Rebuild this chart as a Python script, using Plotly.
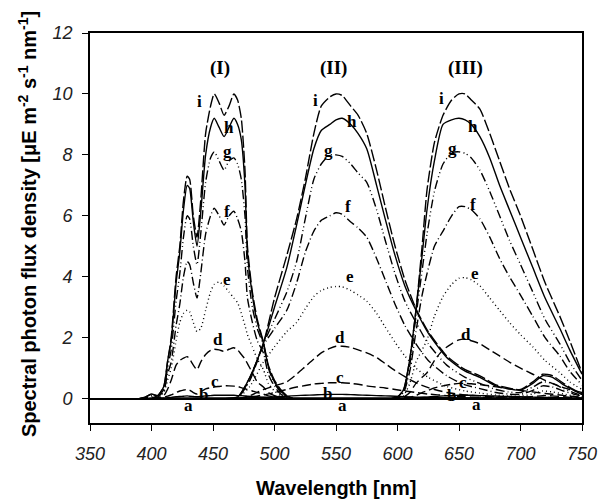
import plotly.graph_objects as go

# ---------------- data ----------------
LETTERS = ["a", "b", "c", "d", "e", "f", "g", "h", "i"]

# Group (I) – blue
WL_I = [390, 395, 400, 405, 410, 413, 416, 420, 423, 426, 429, 431, 434, 437, 440, 444, 448,
        451, 455, 459, 463, 467, 470, 473, 476, 478, 482, 486, 491, 495, 500, 505, 510, 515]
I_a = [0, 0, 0.01, 0.01, 0.01, 0.01, 0.02, 0.02, 0.02, 0.02, 0.02, 0.02, 0.02, 0.02, 0.02, 0.02, 0.02,
       0.02, 0.02, 0.02, 0.02, 0.02, 0.02, 0.02, 0.02, 0.02, 0.02, 0.02, 0.01, 0.01, 0.01, 0, 0, 0]
I_b = [0, 0, 0.01, 0.01, 0.02, 0.03, 0.04, 0.06, 0.07, 0.08, 0.09, 0.08, 0.07, 0.06, 0.07, 0.09, 0.1,
       0.11, 0.11, 0.11, 0.11, 0.11, 0.1, 0.1, 0.09, 0.08, 0.07, 0.06, 0.05, 0.03, 0.02, 0.01, 0, 0]
I_c = [0, 0, 0.02, 0.02, 0.04, 0.08, 0.12, 0.2, 0.25, 0.28, 0.3, 0.28, 0.2, 0.15, 0.22, 0.32, 0.36,
       0.38, 0.4, 0.42, 0.42, 0.41, 0.4, 0.36, 0.32, 0.3, 0.25, 0.2, 0.15, 0.09, 0.05, 0.02, 0.01, 0]
I_d = [0, 0.01, 0.05, 0.03, 0.1, 0.3, 0.6, 1.1, 1.25, 1.33, 1.38, 1.3, 1.1, 0.95, 1.2, 1.45, 1.58,
       1.62, 1.6, 1.55, 1.62, 1.67, 1.6, 1.45, 1.3, 1.15, 0.85, 0.55, 0.38, 0.2, 0.1, 0.04, 0.01, 0]
I_e = [0, 0.02, 0.08, 0.05, 0.2, 0.6, 1.0, 1.9, 2.5, 2.8, 2.9, 2.85, 2.5, 2.2, 2.3, 2.9, 3.5,
       3.75, 3.83, 3.7, 3.5, 3.3, 3.15, 2.8, 2.4, 2.1, 1.7, 1.3, 0.95, 0.5, 0.25, 0.1, 0.03, 0]
I_f = [0, 0.02, 0.1, 0.06, 0.25, 0.8, 1.2, 2.4, 3.1, 4.0, 4.5, 4.4, 3.8, 3.3, 4.1, 5.4, 6.0,
       6.25, 6.0, 5.7, 6.0, 6.15, 5.9, 5.5, 4.5, 3.3, 2.5, 1.9, 1.5, 0.8, 0.4, 0.15, 0.05, 0]
I_g = [0, 0.03, 0.12, 0.08, 0.3, 1.0, 1.6, 3.2, 4.1, 5.3, 6.0, 5.9, 5.0, 4.4, 5.4, 7.1, 7.9,
       8.1, 7.8, 7.5, 7.8, 7.9, 7.7, 7.2, 6.0, 4.3, 3.0, 2.3, 1.75, 1.0, 0.5, 0.22, 0.07, 0]
I_h = [0, 0.05, 0.15, 0.1, 0.4, 1.2, 1.9, 3.8, 4.8, 6.2, 7.0, 6.9, 5.8, 5.0, 6.1, 8.0, 8.9,
       9.2, 8.9, 8.6, 8.9, 9.2, 9.0, 8.5, 7.0, 4.8, 3.4, 2.5, 1.82, 1.05, 0.55, 0.25, 0.08, 0]
I_i = [0, 0.05, 0.15, 0.1, 0.4, 1.2, 2.0, 4.0, 5.0, 6.5, 7.3, 7.2, 6.0, 5.3, 6.5, 8.7, 9.6,
       10.0, 9.7, 9.3, 9.6, 10.0, 9.8, 9.2, 7.5, 5.0, 3.5, 2.6, 1.85, 1.1, 0.6, 0.3, 0.1, 0]

# Group (II) – green
WL_II = [460, 470, 480, 491, 500, 510, 518, 525, 532, 538, 545, 550, 555, 562, 568, 575, 583,
         590, 598, 606, 615, 625, 640, 655, 667, 680, 690, 700, 710, 718, 726, 735, 743, 750]
II_a = [0, 0, 0.01, 0.01, 0.02, 0.02, 0.02, 0.02, 0.02, 0.02, 0.02, 0.02, 0.02, 0.02, 0.02, 0.02, 0.02,
        0.02, 0.02, 0.02, 0.02, 0.01, 0.01, 0.01, 0.01, 0, 0, 0, 0, 0, 0, 0, 0, 0]
II_b = [0, 0, 0.02, 0.04, 0.06, 0.08, 0.1, 0.11, 0.12, 0.13, 0.14, 0.14, 0.14, 0.13, 0.12, 0.11, 0.1,
        0.09, 0.08, 0.06, 0.05, 0.04, 0.03, 0.02, 0.01, 0.01, 0, 0, 0.01, 0.01, 0.01, 0, 0, 0]
II_c = [0, 0, 0.05, 0.12, 0.2, 0.3, 0.38, 0.43, 0.48, 0.5, 0.52, 0.52, 0.52, 0.5, 0.47, 0.42, 0.38,
        0.35, 0.3, 0.25, 0.2, 0.15, 0.1, 0.06, 0.04, 0.03, 0.02, 0.02, 0.03, 0.04, 0.03, 0.02, 0.01, 0]
II_d = [0, 0.01, 0.1, 0.3, 0.42, 0.55, 0.8, 1.05, 1.3, 1.5, 1.65, 1.72, 1.72, 1.68, 1.6, 1.5, 1.35,
        1.15, 0.92, 0.72, 0.52, 0.36, 0.2, 0.12, 0.09, 0.06, 0.05, 0.04, 0.07, 0.1, 0.09, 0.06, 0.04, 0.02]
II_e = [0, 0.02, 0.4, 1.2, 1.7, 2.2, 2.5, 2.95, 3.35, 3.55, 3.65, 3.68, 3.67, 3.55, 3.4, 3.2, 2.8,
        2.35, 1.85, 1.4, 1.0, 0.7, 0.4, 0.25, 0.18, 0.12, 0.09, 0.08, 0.15, 0.25, 0.22, 0.15, 0.09, 0.05]
II_f = [0, 0.03, 0.6, 1.75, 2.3, 2.9, 3.8, 4.8, 5.5, 5.85, 6.0, 6.1, 6.05, 5.8, 5.6, 5.3, 4.6,
        3.9, 3.1, 2.4, 1.8, 1.25, 0.75, 0.45, 0.33, 0.2, 0.15, 0.14, 0.27, 0.42, 0.38, 0.25, 0.15, 0.08]
II_g = [0, 0.04, 0.65, 1.8, 2.6, 3.5, 4.5, 5.9, 7.2, 7.7, 8.0, 8.0, 7.95, 7.7, 7.4, 7.1, 6.2,
        5.2, 4.1, 3.2, 2.5, 1.8, 1.1, 0.7, 0.5, 0.3, 0.22, 0.2, 0.38, 0.55, 0.5, 0.33, 0.2, 0.1]
II_h = [0, 0.05, 0.7, 1.82, 3.0, 4.3, 5.7, 7.0, 8.2, 8.8, 9.0, 9.15, 9.2, 9.0, 8.7, 8.2, 7.0,
        5.9, 4.7, 3.7, 2.9, 2.15, 1.35, 0.9, 0.7, 0.42, 0.32, 0.28, 0.5, 0.75, 0.7, 0.45, 0.28, 0.13]
II_i = [0, 0.05, 0.7, 1.82, 3.3, 4.7, 5.9, 7.2, 8.7, 9.6, 9.9, 10.0, 9.95, 9.6, 9.3, 8.7, 7.5,
        6.3, 5.0, 3.9, 2.95, 2.2, 1.4, 0.95, 0.75, 0.45, 0.35, 0.3, 0.55, 0.8, 0.75, 0.5, 0.3, 0.15]

# Group (III) – red
WL_III = [595, 600, 605, 610, 615, 620, 624, 630, 637, 644, 650, 655, 660, 667, 675, 683, 691,
          700, 710, 720, 732, 740, 750]
III_a = [0, 0, 0, 0.01, 0.01, 0.02, 0.02, 0.02, 0.02, 0.02, 0.02, 0.02, 0.02, 0.02, 0.02, 0.02, 0.02,
         0.02, 0.01, 0.01, 0.01, 0.01, 0]
III_b = [0, 0, 0, 0.01, 0.02, 0.04, 0.05, 0.07, 0.09, 0.1, 0.11, 0.11, 0.11, 0.1, 0.09, 0.08, 0.07,
         0.06, 0.05, 0.04, 0.03, 0.02, 0.01]
III_c = [0, 0, 0.02, 0.05, 0.1, 0.2, 0.25, 0.35, 0.42, 0.47, 0.5, 0.5, 0.49, 0.46, 0.42, 0.37, 0.32,
         0.27, 0.22, 0.17, 0.12, 0.08, 0.05]
III_d = [0, 0.01, 0.05, 0.2, 0.5, 0.7, 0.85, 1.25, 1.6, 1.8, 1.93, 1.95, 1.9, 1.8, 1.6, 1.4, 1.2,
         1.0, 0.8, 0.6, 0.4, 0.3, 0.2]
III_e = [0, 0.02, 0.1, 0.5, 1.2, 1.6, 1.93, 2.7, 3.35, 3.75, 3.95, 3.97, 3.9, 3.7, 3.3, 2.9, 2.5,
         2.1, 1.7, 1.25, 0.85, 0.55, 0.3]
III_f = [0, 0.03, 0.2, 0.9, 2.2, 3.4, 4.1, 5.0, 5.5, 6.0, 6.3, 6.3, 6.2, 5.9, 5.3, 4.6, 4.0,
         3.4, 2.7, 2.0, 1.4, 0.9, 0.45]
III_g = [0, 0.04, 0.25, 1.1, 2.7, 4.2, 5.4, 6.8, 7.7, 8.06, 8.1, 8.05, 7.9, 7.5, 6.8, 6.0, 5.2,
         4.4, 3.5, 2.6, 1.8, 1.2, 0.6]
III_h = [0, 0.05, 0.3, 1.3, 2.9, 4.7, 6.2, 7.8, 9.0, 9.15, 9.2, 9.15, 9.0, 8.6, 7.9, 7.0, 6.2,
         5.3, 4.3, 3.3, 2.3, 1.6, 0.8]
III_i = [0, 0.05, 0.3, 1.3, 2.9, 5.0, 6.85, 8.4, 9.3, 9.8, 10.0, 10.0, 9.8, 9.5, 8.7, 7.8, 6.9,
         6.0, 4.9, 3.8, 2.7, 1.9, 0.85]

# Label positions (wavelength, value) for the curve letters and group names
LBL_I = {"a": (430, -0.22), "b": (442, 0.12), "c": (452, 0.56), "d": (454, 1.95), "e": (461, 3.9),
         "f": (461, 6.15), "g": (462, 8.1), "h": (463, 8.9), "i": (439, 9.75)}
LBL_II = {"a": (555, -0.22), "b": (543, 0.18), "c": (553, 0.68), "d": (553, 2.0), "e": (561, 4.0),
          "f": (560, 6.3), "g": (544, 8.16), "h": (563, 9.1), "i": (533, 9.8)}
LBL_III = {"a": (664, -0.2), "b": (644, 0.1), "c": (653, 0.52), "d": (656, 2.1), "e": (663, 4.1),
           "f": (661, 6.36), "g": (645, 8.2), "h": (661, 8.93), "i": (636, 9.85)}
GROUP_NAMES = ["(I)", "(II)", "(III)"]
GROUP_POS = [(455.5, 10.85), (548, 10.85), (655, 10.85)]

X_TICKS = [350, 400, 450, 500, 550, 600, 650, 700, 750]
Y_TICKS = [0, 2, 4, 6, 8, 10, 12]

# ---------------- styles ----------------
DASH = {
    "a": "solid",
    "b": "solid",
    "c": "9px,4px",
    "d": "9px,4px",
    "e": "1px,3px",
    "f": "9px,3px,1px,3px",
    "g": "9px,3px,1px,3px,1px,3px",
    "h": "solid",
    "i": "12px,3px",
}

groups = [
    (WL_I, [I_a, I_b, I_c, I_d, I_e, I_f, I_g, I_h, I_i], LBL_I),
    (WL_II, [II_a, II_b, II_c, II_d, II_e, II_f, II_g, II_h, II_i], LBL_II),
    (WL_III, [III_a, III_b, III_c, III_d, III_e, III_f, III_g, III_h, III_i], LBL_III),
]

fig = go.Figure()
annotations = []
serif = "Liberation Serif, Times New Roman, serif"
for gi, (wl, series, lbl) in enumerate(groups):
    for letter, ys in zip(LETTERS, series):
        fig.add_trace(go.Scatter(
            x=wl, y=ys, mode="lines",
            line=dict(color="black", width=1.4, dash=DASH[letter], shape="spline", smoothing=0.6),
            showlegend=False, hoverinfo="skip",
        ))
        lx, ly = lbl[letter]
        annotations.append(dict(x=lx, y=ly, xref="x", yref="y", text=letter, showarrow=False,
                                font=dict(family=serif, size=17, color="black", weight="bold")))
    gx, gy = GROUP_POS[gi]
    annotations.append(dict(x=gx, y=gy, xref="x", yref="y", text=GROUP_NAMES[gi], showarrow=False,
                            font=dict(family=serif, size=19, color="black", weight="bold")))

sans = "Liberation Sans, Arial, sans-serif"
annotations.append(dict(
    x=0.5, y=-0.167, xref="paper", yref="paper", xanchor="center", yanchor="middle",
    text="Wavelength [nm]", showarrow=False,
    font=dict(family=sans, size=20, color="black", weight="bold")))
annotations.append(dict(
    x=-0.128, y=0.51, xref="paper", yref="paper", xanchor="center", yanchor="middle",
    text="Spectral photon flux density [μE m<sup>-2</sup> s<sup>-1</sup> nm<sup>-1</sup>]",
    textangle=-90, showarrow=False,
    font=dict(family=sans, size=20, color="black", weight="bold")))

tickfont = dict(family=sans, size=18, color="#222222", style="italic")
fig.update_layout(
    width=603, height=502,
    margin=dict(l=90, r=21, t=33, b=79, autoexpand=False),
    paper_bgcolor="white", plot_bgcolor="white",
    annotations=annotations,
    xaxis=dict(range=[350, 750], tickvals=X_TICKS, ticks="outside", ticklen=6, tickwidth=1.3,
               tickcolor="black", showline=True, linecolor="black", linewidth=1.6, mirror=True,
               showgrid=False, zeroline=False, tickfont=tickfont, ticklabelstandoff=8,
               automargin=False),
    yaxis=dict(range=[-0.8, 12], tickvals=Y_TICKS, ticks="outside", ticklen=6, tickwidth=1.3,
               tickcolor="black", showline=True, linecolor="black", linewidth=1.6, mirror=True,
               showgrid=False, zeroline=True, zerolinecolor="black", zerolinewidth=1.6,
               tickfont=tickfont, ticklabelstandoff=6, automargin=False),
)

# remove the default 8px page margin so the 603x502 figure fills the window exactly
fig.write_html("out.html", config={"displayModeBar": False},
               post_script="document.body.style.margin='0px';")
